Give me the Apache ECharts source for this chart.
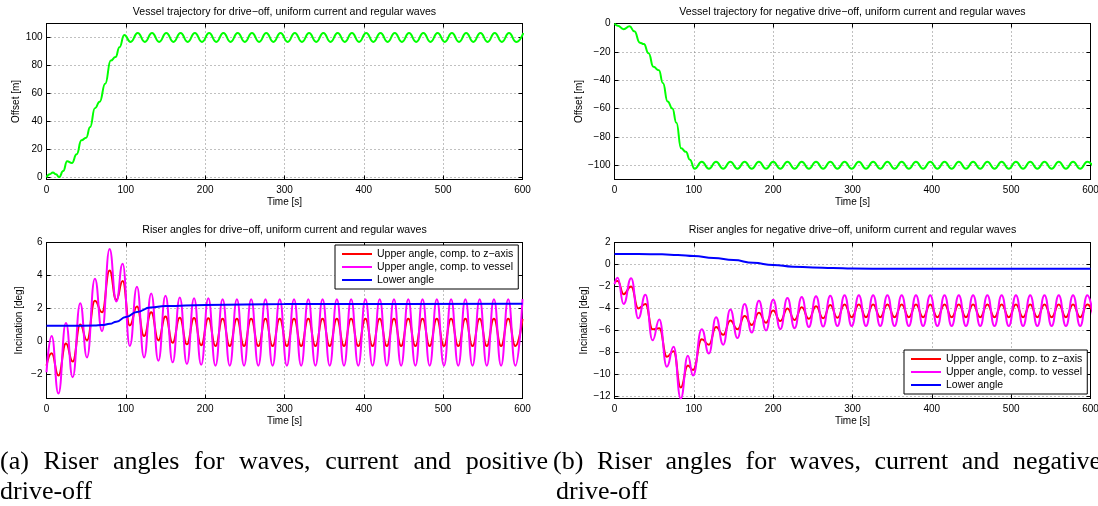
<!DOCTYPE html>
<html>
<head>
<meta charset="utf-8">
<title>Riser angles for waves, current and drive-off</title>
<script src="https://cdn.jsdelivr.net/npm/echarts@6.0.0/dist/echarts.min.js"></script>
<style>
  html, body { margin: 0; padding: 0; background: #fff; }
  #chart { width: 1098px; height: 506px; }
</style>
</head>
<body>
<div id="chart"></div>
<script>
// values (time [s] of each turning point, value at it)

// (a) positive drive-off, vessel offset
const posOffsetTime = [
  0, 4, 8, 12, 16, 21, 26, 32, 38, 44, 50, 55, 61, 67, 74, 81, 87, 92, 98,
  106, 115, 124, 133, 142, 151, 160, 169, 178, 187,
  196, 205, 214, 223, 232, 241, 250, 259, 268, 277,
  286, 295, 304, 313, 322, 331, 340, 349, 358, 367,
  376, 385, 394, 403, 412, 421, 430, 439, 448, 457,
  466, 475, 484, 493, 502, 511, 520, 529, 538, 547,
  556, 565, 574, 583, 592, 601
]
const posOffset = [
  0, 2.3, 3.5, 2.2, 0.2, 4.5, 11.5, 10.3, 16.5, 26.5, 28.4, 36, 49.5, 54, 67, 83.5, 86, 93, 101.8,
  96.8, 103.2, 96.8, 103.2, 96.8, 103.2, 96.8, 103.2, 96.8, 103.2,
  96.8, 103.2, 96.8, 103.2, 96.8, 103.2, 96.8, 103.2, 96.8, 103.2,
  96.8, 103.2, 96.8, 103.2, 96.8, 103.2, 96.8, 103.2, 96.8, 103.2,
  96.8, 103.2, 96.8, 103.2, 96.8, 103.2, 96.8, 103.2, 96.8, 103.2,
  96.8, 103.2, 96.8, 103.2, 96.8, 103.2, 96.8, 103.2, 96.8, 103.2,
  96.8, 103.2, 96.8, 103.2, 96.8, 103.2
]

// (a) positive drive-off, riser angles
const posTime = [
  0, 6.5, 15, 24.5, 33, 42.5, 51, 61, 70, 79.5, 88,
  96, 105, 114, 123, 132, 141, 150, 159, 168, 177,
  186, 195, 204, 213, 222, 231, 240, 249, 258, 267,
  276, 285, 294, 303, 312, 321, 330, 339, 348, 357,
  366, 375, 384, 393, 402, 411, 420, 429, 438, 447,
  456, 465, 474, 483, 492, 501, 510, 519, 528, 537,
  546, 555, 564, 573, 582, 591, 600
]
const posUpperZ = [
  -1.5, -0.75, -2.1, -0.15, -1.25, 1.0, 0.05, 2.45, 1.75, 4.3, 2.5,
  3.65, 0.95, 2.1, 0.3, 1.75, 0.05, 1.5, -0.1, 1.42, -0.2,
  1.4, -0.25, 1.38, -0.3, 1.35, -0.3, 1.35, -0.3, 1.35, -0.3,
  1.35, -0.3, 1.35, -0.3, 1.35, -0.3, 1.35, -0.3, 1.35, -0.3,
  1.35, -0.3, 1.35, -0.3, 1.35, -0.3, 1.35, -0.3, 1.35, -0.3,
  1.35, -0.3, 1.35, -0.3, 1.35, -0.3, 1.35, -0.3, 1.35, -0.3,
  1.35, -0.3, 1.35, -0.3, 1.35, -0.3, 1.35
]
const posUpperVessel = [
  -1.9, 0.3, -3.2, 1.1, -2.2, 2.3, -1.0, 3.8, 0.6, 5.6, 2.4,
  4.7, -0.3, 3.3, -1.0, 2.9, -1.2, 2.75, -1.3, 2.65, -1.4,
  2.6, -1.45, 2.6, -1.5, 2.55, -1.5, 2.55, -1.5, 2.55, -1.5,
  2.55, -1.5, 2.55, -1.5, 2.55, -1.5, 2.55, -1.5, 2.55, -1.5,
  2.55, -1.5, 2.55, -1.5, 2.55, -1.5, 2.55, -1.5, 2.55, -1.5,
  2.55, -1.5, 2.55, -1.5, 2.55, -1.5, 2.55, -1.5, 2.55, -1.5,
  2.55, -1.5, 2.55, -1.5, 2.55, -1.5, 2.55
]
const posLowerTime = [0, 30, 60, 70, 80, 88, 100, 114, 131, 150, 200, 300, 450, 600]
const posLower = [0.93, 0.93, 0.94, 0.97, 1.05, 1.18, 1.46, 1.77, 2.04, 2.13, 2.2, 2.25, 2.26, 2.27]

// (b) negative drive-off, vessel offset
const negOffsetTime = [
  0, 4, 11.5, 19, 25, 32, 37, 43, 49, 56, 61, 67, 73, 78, 84, 90, 95, 101,
  110, 119, 128, 137, 146, 155, 164, 173, 182, 191,
  200, 209, 218, 227, 236, 245, 254, 263, 272, 281,
  290, 299, 308, 317, 326, 335, 344, 353, 362, 371,
  380, 389, 398, 407, 416, 425, 434, 443, 452, 461,
  470, 479, 488, 497, 506, 515, 524, 533, 542, 551,
  560, 569, 578, 587, 596, 605
]
const negOffset = [
  0, -1.5, -4, -2, -5.5, -13.5, -14.5, -21, -30.5, -33, -42, -55, -60, -70, -88, -90.5, -96, -102.5,
  -97.5, -102.5, -97.5, -102.5, -97.5, -102.5, -97.5, -102.5, -97.5, -102.5,
  -97.5, -102.5, -97.5, -102.5, -97.5, -102.5, -97.5, -102.5, -97.5, -102.5,
  -97.5, -102.5, -97.5, -102.5, -97.5, -102.5, -97.5, -102.5, -97.5, -102.5,
  -97.5, -102.5, -97.5, -102.5, -97.5, -102.5, -97.5, -102.5, -97.5, -102.5,
  -97.5, -102.5, -97.5, -102.5, -97.5, -102.5, -97.5, -102.5, -97.5, -102.5,
  -97.5, -102.5, -97.5, -102.5, -97.5, -102.5
]

// (b) negative drive-off, riser angles
const negTime = [
  0, 4, 11.5, 21, 30, 39, 48, 56.5, 66, 74.5, 83.5, 92.5, 99,
  110, 119, 128, 137, 146, 155, 164, 173, 182, 191,
  200, 209, 218, 227, 236, 245, 254, 263, 272, 281,
  290, 299, 308, 317, 326, 335, 344, 353, 362, 371,
  380, 389, 398, 407, 416, 425, 434, 443, 452, 461,
  470, 479, 488, 497, 506, 515, 524, 533, 542, 551,
  560, 569, 578, 587, 596, 605
]
const negUpperZ = [
  -1.6, -1.5, -2.7, -2.0, -4.0, -3.6, -5.9, -5.8, -8.4, -7.9, -11.2, -9.2, -9.6,
  -6.8, -7.3, -5.7, -6.4, -5.1, -5.9, -4.7, -5.5, -4.4, -5.3,
  -4.2, -5.15, -4.0, -5.05, -3.9, -4.95, -3.8, -4.9, -3.7, -4.85,
  -3.65, -4.8, -3.65, -4.8, -3.65, -4.8, -3.65, -4.8, -3.65, -4.8,
  -3.65, -4.8, -3.65, -4.8, -3.65, -4.8, -3.65, -4.8, -3.65, -4.8,
  -3.65, -4.8, -3.65, -4.8, -3.65, -4.8, -3.65, -4.8, -3.65, -4.8,
  -3.65, -4.8, -3.65, -4.8, -3.65, -4.8
]
const negUpperVessel = [
  -1.8, -1.2, -3.6, -1.25, -4.9, -2.75, -6.9, -5.0, -9.3, -7.5, -12.2, -8.3, -10.1,
  -5.9, -8.1, -4.8, -7.3, -4.1, -6.7, -3.6, -6.2, -3.3, -6.0,
  -3.2, -5.9, -3.05, -5.8, -2.95, -5.7, -2.9, -5.65, -2.85, -5.6,
  -2.8, -5.6, -2.8, -5.6, -2.8, -5.6, -2.8, -5.6, -2.8, -5.6,
  -2.8, -5.6, -2.8, -5.6, -2.8, -5.6, -2.8, -5.6, -2.8, -5.6,
  -2.8, -5.6, -2.8, -5.6, -2.8, -5.6, -2.8, -5.6, -2.8, -5.6,
  -2.8, -5.6, -2.8, -5.6, -2.8, -5.6
]
const negLowerTime = [0, 30, 60, 80, 100, 125, 150, 175, 200, 225, 250, 275, 300, 350, 450, 600]
const negLower = [0.95, 0.95, 0.92, 0.86, 0.77, 0.58, 0.4, 0.15, -0.05, -0.2, -0.28, -0.33, -0.37, -0.4, -0.4, -0.4]

// axis ranges and ticks
const timeTicks = [0, 100, 200, 300, 400, 500, 600]
const yRanges = [[-1.5, 110], [-110, 0], [-3.5, 6], [-12.2, 2]]
const ySteps = [20, 20, 2, 2]

// texts
const titles = [
  'Vessel trajectory for drive\u2212off, uniform current and regular waves',
  'Vessel trajectory for negative drive\u2212off, uniform current and regular waves',
  'Riser angles for drive\u2212off, uniform current and regular waves',
  'Riser angles for negative drive\u2212off, uniform current and regular waves'
]
const yNames = ['Offset [m]', 'Offset [m]', 'Incination [deg]', 'Incination [deg]']
const seriesNames = ['Upper angle, comp. to z\u2212axis', 'Upper angle, comp. to vessel', 'Lower angle']
const captionA = ['(a)', 'Riser', 'angles', 'for', 'waves,', 'current', 'and', 'positive']
const captionB = ['(b)', 'Riser', 'angles', 'for', 'waves,', 'current', 'and', 'negative']
const captionLine2 = 'drive-off'

// layout
const SANS = '"Liberation Sans", Arial, Helvetica, sans-serif'
const grids = [
  { left: 46.5, top: 23.5, width: 476, height: 156 },
  { left: 614.5, top: 23.5, width: 476, height: 156 },
  { left: 46.5, top: 242.5, width: 476, height: 156 },
  { left: 614.5, top: 242.5, width: 476, height: 156 }
]
const yNameGaps = [25, 30, 22, 25]
const ySplit = [5, 5, 5, 7]

const zip = (xs, ys) => xs.map((x, i) => [x, ys[i]])
const onStep = (v, step) => Math.abs(v / step - Math.round(v / step)) < 1e-6
const fmt = v => String(v).replace('-', '\u2212')

const black = { color: '#000', width: 1 }
const textBase = { color: '#000', fontFamily: SANS, fontSize: 10 }
const dotted = { color: '#808080', width: 1, type: [1, 3] }

const xAxes = []
const yAxes = []
grids.forEach((g, i) => {
  xAxes.push({
    type: 'value', gridIndex: i, min: timeTicks[0], max: timeTicks[timeTicks.length - 1], interval: 100,
    position: 'bottom',
    name: 'Time [s]', nameLocation: 'middle', nameGap: 18, nameTextStyle: textBase,
    axisLine: { onZero: false, lineStyle: black },
    axisTick: { inside: true, length: 4, lineStyle: black },
    axisLabel: { ...textBase, margin: 6 },
    splitLine: { show: true, lineStyle: dotted }
  })
  yAxes.push({
    type: 'value', gridIndex: i, min: yRanges[i][0], max: yRanges[i][1], splitNumber: ySplit[i],
    position: 'left',
    name: yNames[i], nameLocation: 'middle', nameGap: yNameGaps[i], nameTextStyle: textBase,
    axisLine: { onZero: false, lineStyle: black },
    axisTick: { inside: true, length: 4, lineStyle: black },
    axisLabel: { ...textBase, margin: 4, formatter: v => (onStep(v, ySteps[i]) ? fmt(v) : '') },
    splitLine: { show: true, lineStyle: dotted }
  })
})
// box with inner ticks on top and right, like the original
grids.forEach((g, i) => {
  xAxes.push({
    type: 'value', gridIndex: i, min: 0, max: 600, interval: 100, position: 'top',
    axisLine: { onZero: false, lineStyle: black },
    axisTick: { inside: true, length: 4, lineStyle: black },
    axisLabel: { show: false }, splitLine: { show: false }
  })
  yAxes.push({
    type: 'value', gridIndex: i, min: yRanges[i][0], max: yRanges[i][1], splitNumber: ySplit[i],
    position: 'right',
    axisLine: { onZero: false, lineStyle: black },
    axisTick: { inside: true, length: 4, lineStyle: black },
    axisLabel: { show: false }, splitLine: { show: false }
  })
})

function line(name, idx, data, color) {
  return {
    name, type: 'line', xAxisIndex: idx, yAxisIndex: idx, data,
    showSymbol: false, symbol: 'none', smooth: 0.5, smoothMonotone: 'x',
    lineStyle: { color, width: 2 }, itemStyle: { color },
    animation: false
  }
}

const series = [
  line('Offset', 0, zip(posOffsetTime, posOffset), '#00ff00'),
  line('Offset', 1, zip(negOffsetTime, negOffset), '#00ff00'),
  line(seriesNames[0], 2, zip(posTime, posUpperZ), '#ff0000'),
  line(seriesNames[1], 2, zip(posTime, posUpperVessel), '#ff00ff'),
  line(seriesNames[2], 2, zip(posLowerTime, posLower), '#0000ff'),
  line(seriesNames[0], 3, zip(negTime, negUpperZ), '#ff0000'),
  line(seriesNames[1], 3, zip(negTime, negUpperVessel), '#ff00ff'),
  line(seriesNames[2], 3, zip(negLowerTime, negLower), '#0000ff')
]

const legendBase = {
  orient: 'vertical', data: seriesNames, icon: 'rect', itemWidth: 30, itemHeight: 2,
  itemGap: 1, padding: [3, 5, 3, 7], backgroundColor: '#fff', borderColor: '#000', borderWidth: 1,
  borderRadius: 0, selectedMode: false,
  textStyle: { color: '#000', fontFamily: SANS, fontSize: 10.5, lineHeight: 12 }
}

const titleCenters = [[284.5, 12], [852.5, 12], [284.5, 230], [852.5, 230]]

// captions set in a serif face, first line justified like the LaTeX original
const captionFont = '26px "Liberation Serif", "Times New Roman", serif'
const ctx = document.createElement('canvas').getContext('2d')
ctx.font = captionFont
function justified(words, x0, width, y) {
  const widths = words.map(w => ctx.measureText(w).width)
  const gap = (width - widths.reduce((a, b) => a + b, 0)) / (words.length - 1)
  let x = x0
  return words.map((w, i) => {
    const el = { type: 'text', x, y, style: { text: w, font: captionFont, fill: '#000', verticalAlign: 'middle', textVerticalAlign: 'middle' } }
    x += widths[i] + gap
    return el
  })
}
function plain(text, x, y) {
  return { type: 'text', x, y, style: { text, font: captionFont, fill: '#000', verticalAlign: 'middle', textVerticalAlign: 'middle' } }
}

const graphics = [
  ...justified(captionA, 0, 548, 462),
  plain(captionLine2, 0, 492),
  ...justified(captionB, 553, 548, 462),
  plain(captionLine2, 556, 492)
]

const chart = echarts.init(document.getElementById('chart'), null, { renderer: 'canvas' })
chart.setOption({
  animation: false,
  backgroundColor: '#fff',
  title: titles.map((t, i) => ({
    text: t, left: titleCenters[i][0], top: titleCenters[i][1] - 6, textAlign: 'center', padding: 0,
    textStyle: { color: '#000', fontFamily: SANS, fontSize: 10.6, fontWeight: 'normal', lineHeight: 12 }
  })),
  legend: [
    { ...legendBase, left: 335, top: 245 },
    { ...legendBase, left: 904, top: 350 }
  ],
  grid: grids.map(g => ({ ...g, containLabel: false, outerBoundsMode: 'none' })),
  xAxis: xAxes,
  yAxis: yAxes,
  series,
  graphic: graphics
})
</script>
</body>
</html>
